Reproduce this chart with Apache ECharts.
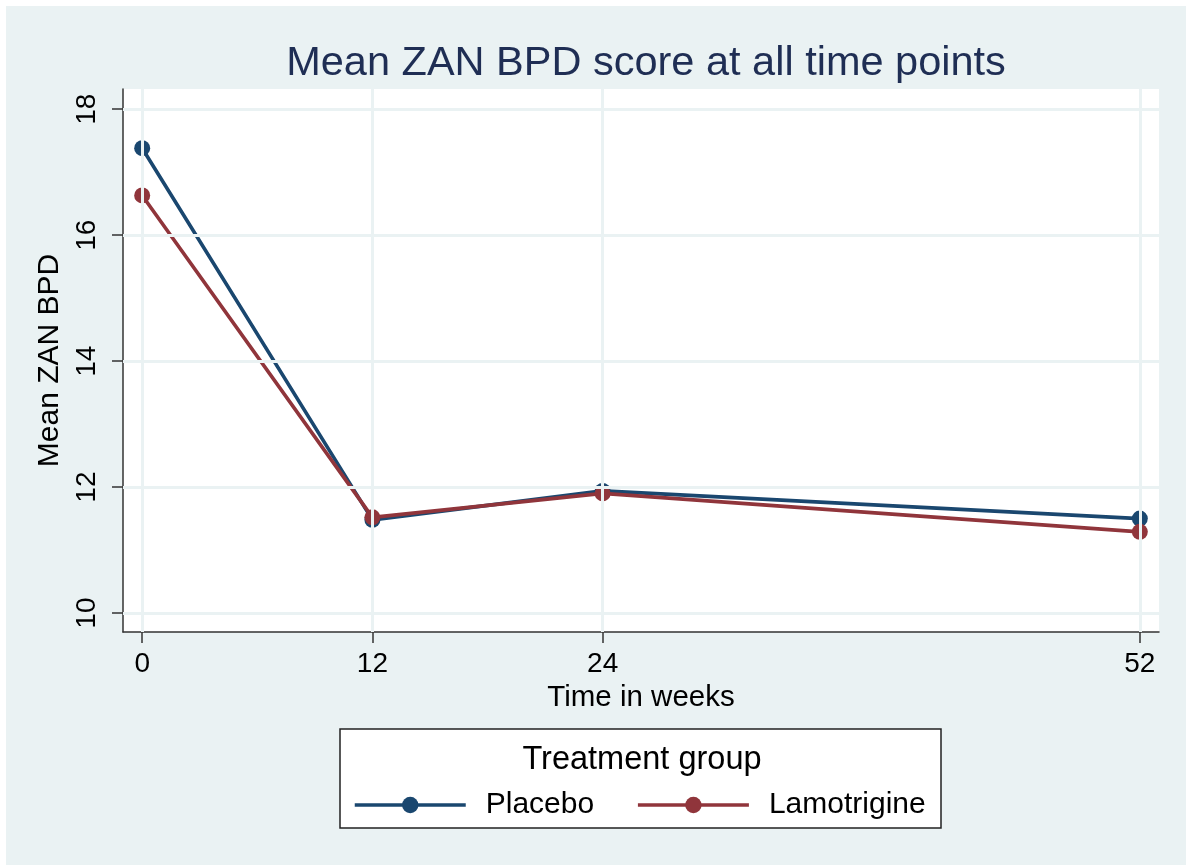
<!DOCTYPE html>
<html>
<head>
<meta charset="utf-8">
<script src="https://cdn.jsdelivr.net/npm/echarts@6/dist/echarts.min.js"></script>
<style>
  html, body { margin: 0; padding: 0; background: #ffffff; }
  #chart { position: absolute; left: 6px; top: 6px; width: 1180px; height: 859px; }
</style>
</head>
<body>
<div id="chart"></div>
<script>
// ---- data ----
const weeks = [0, 12, 24, 52];
const placebo = [17.38, 11.48, 11.94, 11.50];
const lamotrigine = [16.63, 11.52, 11.90, 11.29];
const xTicks = [0, 12, 24, 52];
const yTicks = [10, 12, 14, 16, 18];
const seriesNames = ['Placebo', 'Lamotrigine'];

const FONT = "'Liberation Sans', Arial, sans-serif";
const NAVY = '#1A476F';
const MAROON = '#90353B';
const BG = '#EAF2F3';
const AXIS = '#333333';

const chart = echarts.init(document.getElementById('chart'));

const gridMarks = xTicks.map(v => ({ xAxis: v })).concat(yTicks.map(v => ({ yAxis: v })));

chart.setOption({
  backgroundColor: BG,
  animation: false,
  textStyle: { fontFamily: FONT },
  title: {
    text: 'Mean ZAN BPD score at all time points',
    left: 635,
    textAlign: 'center',
    top: 32,
    textStyle: { fontFamily: FONT, fontSize: 41.5, fontWeight: 'normal', color: '#1F2E54' }
  },
  grid: {
    left: 117, top: 83, right: 27, bottom: 233,
    show: true, backgroundColor: '#ffffff', borderWidth: 0
  },
  xAxis: {
    type: 'value',
    min: -1, max: 53,
    name: 'Time in weeks',
    nameLocation: 'middle',
    nameGap: 47,
    nameTextStyle: { fontFamily: FONT, fontSize: 29.5, color: '#000' },
    axisLine: { show: true, onZero: false, lineStyle: { color: AXIS, width: 1.5 } },
    axisTick: { show: true, length: 11, customValues: xTicks, lineStyle: { color: AXIS, width: 1.5 } },
    axisLabel: { customValues: xTicks, fontSize: 28, color: '#000', margin: 18, fontFamily: FONT },
    splitLine: { show: false }
  },
  yAxis: {
    type: 'value',
    min: 9.7, max: 18.32,
    name: 'Mean ZAN BPD',
    nameLocation: 'middle',
    nameRotate: 90,
    nameGap: 48,
    nameTextStyle: { fontFamily: FONT, fontSize: 30, color: '#000' },
    axisLine: { show: true, onZero: false, lineStyle: { color: AXIS, width: 1.5 } },
    axisTick: { show: true, length: 11, customValues: yTicks, lineStyle: { color: AXIS, width: 1.5 } },
    axisLabel: { customValues: yTicks, rotate: 90, fontSize: 28, color: '#000', margin: 22, fontFamily: FONT },
    splitLine: { show: false }
  },
  legend: {
    data: seriesNames,
    left: 342,
    top: 779,
    itemWidth: 111,
    itemHeight: 20.5,
    itemGap: 42,
    lineStyle: { width: 3.5 },
    textStyle: { fontFamily: FONT, fontSize: 30, color: '#000', padding: [0, 0, 0, 15] }
  },
  graphic: [
    {
      type: 'rect',
      shape: { x: 334, y: 723, width: 601, height: 99 },
      style: { fill: '#ffffff', stroke: '#222', lineWidth: 1.5 },
      z: -1
    },
    {
      type: 'text',
      x: 636, y: 754,
      style: {
        text: 'Treatment group',
        font: '32.5px ' + FONT,
        fill: '#000',
        textAlign: 'center',
        textVerticalAlign: 'middle'
      },
      z: 10
    }
  ],
  series: [
    {
      name: 'grid',
      type: 'line',
      data: [],
      z: 1,
      silent: true,
      markLine: {
        silent: true,
        symbol: 'none',
        label: { show: false },
        emphasis: { disabled: true },
        lineStyle: { color: BG, width: 3, type: 'solid' },
        data: gridMarks
      }
    },
    {
      name: seriesNames[0],
      type: 'line',
      z: 3,
      data: weeks.map((w, i) => [w, placebo[i]]),
      symbol: 'circle',
      symbolSize: 16,
      lineStyle: { color: NAVY, width: 3.6 },
      itemStyle: { color: NAVY }
    },
    {
      name: seriesNames[1],
      type: 'line',
      z: 4,
      data: weeks.map((w, i) => [w, lamotrigine[i]]),
      symbol: 'circle',
      symbolSize: 16,
      lineStyle: { color: MAROON, width: 3.6 },
      itemStyle: { color: MAROON }
    }
  ]
});
</script>
</body>
</html>
